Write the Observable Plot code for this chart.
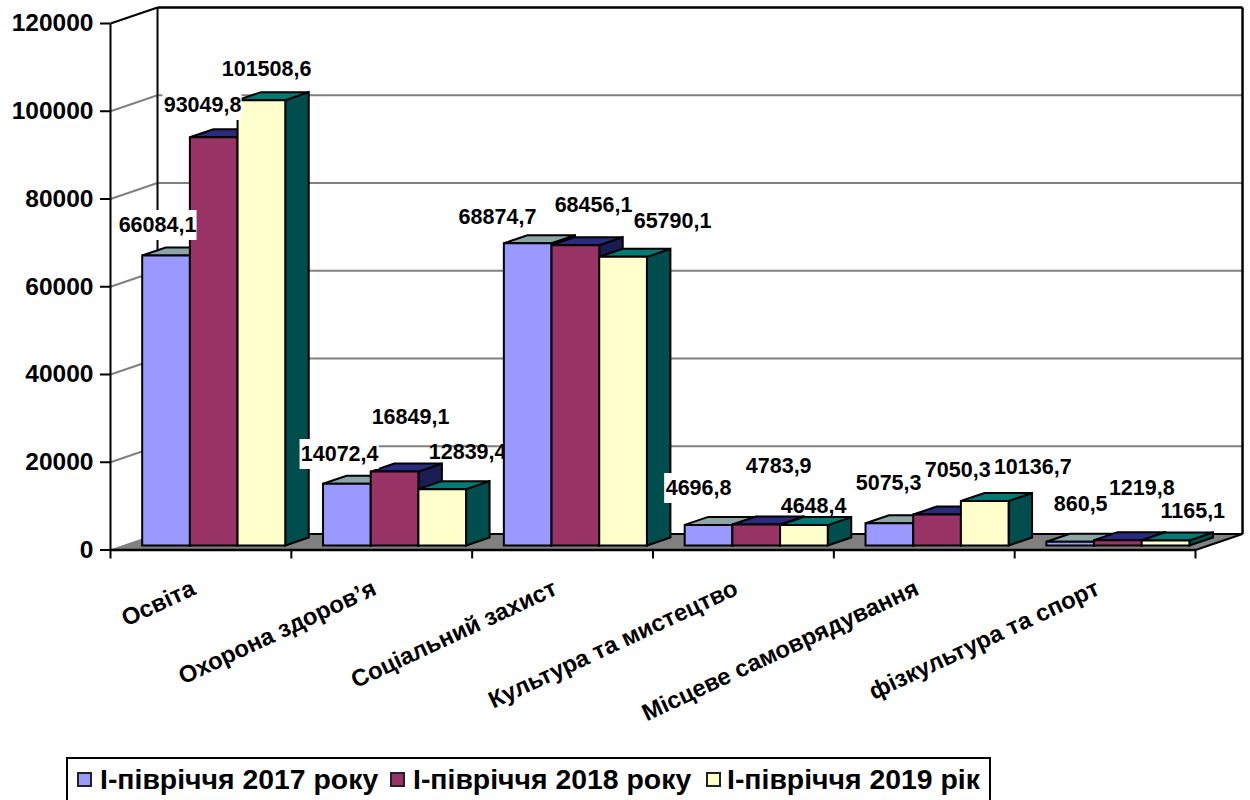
<!DOCTYPE html>
<html><head><meta charset="utf-8">
<script src="https://cdn.jsdelivr.net/npm/d3@7"></script>
<script src="https://cdn.jsdelivr.net/npm/@observablehq/plot@0.6"></script>
<style>
body{margin:0;background:#fff;font-family:"Liberation Sans",Arial,sans-serif;overflow:hidden}
#legend{position:absolute;left:66px;top:757px;width:925px;height:46px;box-sizing:border-box;border:2px solid #000;font-weight:bold;font-size:28.4px;color:#000}
#legend span{position:absolute;top:4px;white-space:nowrap}
#legend i{position:absolute;top:13px;width:15px;height:15px;box-sizing:border-box;border:2px solid #222}
</style></head><body><div id="chart"></div><div id="legend"></div>
<script>
const categories = ["Освіта","Охорона здоров’я","Соціальний захист","Культура та мистецтво","Місцеве самоврядування","фізкультура та спорт"];
const seriesNames = ["І-півріччя 2017 року","І-півріччя 2018 року","І-півріччя 2019 рік"];
const values2017 = [66084.1,14072.4,68874.7,4696.8,5075.3,860.5];
const values2018 = [93049.8,16849.1,68456.1,4783.9,7050.3,1219.8];
const values2019 = [101508.6,12839.4,65790.1,4648.4,10136.7,1165.1];
const yTicks = [0,20000,40000,60000,80000,100000,120000];

// colours: front, top and side face of each series
const frontColors = ["#9999FF","#993366","#FFFFCC"];
const topColors = ["#8CA5A5","#2A2A7E","#007A73"];
const sideColors = ["#5C7878","#1C1C55","#004D4D"];

// hand-placed data labels, in chart units: [category position, value height]
const labelX = [[0.26,1.267,2.14,3.252,4.303,5.365],[0.509,1.659,2.671,3.695,4.685,5.703],[0.863,1.975,3.108,3.888,5.1,5.985]];
const labelY = [[73960,21766,75783,14017,15157,10370],[101310,30199,78519,19031,18120,14017],[109516,22222,74872,9914,18803,8775]];

const boxedLabels = new Set(["66084,1","93049,8","14072,4","4696,8"]);
const behindBars = new Set(["12839,4"]);

const allValues = [values2017,values2018,values2019];
const fmt = v => String(v).replace(".",",");
const rows = [];
categories.forEach((c,i)=>allValues.forEach((vals,s)=>rows.push({
  c,i,s,v:vals[i],text:fmt(vals[i]),lx:labelX[s][i],ly:labelY[s][i]
})));

const offset = 0.178, barW = 0.2637;     // bar placement inside a category
const wallX = 0.26, wallY = 3650;        // depth of the box in chart units
const barDx = 23.5, barDy = -8, barLift = -4;  // depth of a bar, in px

function bars3d(index, scales, values){
  const g = d3.create("svg:g");
  const {x1:X1,x2:X2,y1:Y1,y2:Y2} = values;
  for(const k of index){
    const s = rows[k].s;
    const l=X1[k]+0, r=X2[k]+0, b=Y1[k]+barLift, t=Y2[k]+barLift;
    const pts = a => a.map(p=>p.join(",")).join(" ");
    const add = (p,f)=>g.append("polygon").attr("points",pts(p)).attr("fill",f)
       .attr("stroke","#000").attr("stroke-width",2).attr("stroke-linejoin","miter");
    add([[r,b],[r+barDx,b+barDy],[r+barDx,t+barDy],[r,t]],sideColors[s]);
    add([[l,t],[l+barDx,t+barDy],[r+barDx,t+barDy],[r,t]],topColors[s]);
    add([[l,b],[r,b],[r,t],[l,t]],frontColors[s]);
  }
  return g.node();
}

const fontFamily = '"Liberation Sans",Arial,sans-serif';
const plot = Plot.plot({
  width:1250,height:757,
  marginLeft:110,marginRight:55,marginTop:23,marginBottom:207.5,
  style:{fontFamily,background:"#fff"},
  x:{type:"linear",domain:[0,6]},
  y:{domain:[0,120000]},
  marks:[
    // floor
    Plot.area([0,6],{x1:d=>d,y1:0,x2:d=>d+wallX,y2:wallY,fill:"#808080"}),
    // wall gridlines with their receding side segments
    Plot.link(yTicks.filter(t=>t>0&&t<120000),{x1:0,y1:d=>d,x2:wallX,y2:d=>d+wallY,stroke:"#808080",strokeWidth:2}),
    Plot.link(yTicks.filter(t=>t>0&&t<120000),{x1:wallX,y1:d=>d+wallY,x2:6+wallX,y2:d=>d+wallY,stroke:"#808080",strokeWidth:2}),
    // box edges
    Plot.link([120000],{x1:0,y1:d=>d,x2:wallX,y2:d=>d+wallY,stroke:"#000",strokeWidth:2}),
    Plot.link([120000],{x1:wallX,y1:d=>d+wallY,x2:6+wallX,y2:d=>d+wallY,stroke:"#000",strokeWidth:2.5}),
    Plot.link([0],{x1:wallX,y1:wallY,x2:wallX,y2:120000+wallY,stroke:"#000",strokeWidth:2}),
    Plot.link([0],{x1:6+wallX,y1:wallY,x2:6+wallX,y2:120000+wallY,stroke:"#000",strokeWidth:2.5}),
    Plot.link([0],{x1:wallX,y1:wallY,x2:6+wallX,y2:wallY,stroke:"#000",strokeWidth:2}),
    Plot.link([0],{x1:6,y1:0,x2:6+wallX,y2:wallY,stroke:"#000",strokeWidth:2}),
    Plot.link([0],{x1:0,y1:0,x2:0,y2:120000,stroke:"#000",strokeWidth:2}),
    Plot.link([0],{x1:0,y1:0,x2:6,y2:0,stroke:"#000",strokeWidth:2.5}),
    // axes
    Plot.axisY({ticks:yTicks,tickSize:10,tickPadding:7,tickFormat:d=>String(d),fontSize:24.5,fontWeight:"bold",label:null,strokeWidth:2,stroke:"#000",fill:"#000"}),
    Plot.axisX({ticks:d3.range(7),tickSize:9,tickFormat:()=>"",label:null,strokeWidth:2,stroke:"#000"}),
    Plot.text(categories,{x:(d,i)=>i+0.46,y:0,text:d=>d,rotate:-25,textAnchor:"end",lineAnchor:"middle",dy:37,fontSize:23.8,fontWeight:"bold",fill:"#000"}),
    // label that the neighbouring bar overlaps
    Plot.text(rows.filter(d=>behindBars.has(d.text)),{x:"lx",y:"ly",text:"text",fontSize:21.5,fontWeight:"bold",fill:"#000",lineAnchor:"middle"}),
    // bars
    Plot.rect(rows,{x1:d=>d.i+offset+d.s*barW,x2:d=>d.i+offset+(d.s+1)*barW,y1:0,y2:"v",render:bars3d}),
    // white boxes behind some labels, then labels
    Plot.rect(rows.filter(d=>boxedLabels.has(d.text)),{
      x1:d=>d.lx-d.text.length*5.65/180.83,x2:d=>d.lx+d.text.length*5.65/180.83,
      y1:d=>d.ly-15/0.0043875,y2:d=>d.ly+15/0.0043875,fill:"#fff"}),
    Plot.text(rows.filter(d=>!behindBars.has(d.text)),{x:"lx",y:"ly",text:"text",fontSize:21.5,fontWeight:"bold",fill:"#000",lineAnchor:"middle"})
  ]
});
document.getElementById("chart").appendChild(plot);

const lg = document.getElementById("legend");
const swatchAt=[9,322,638], textAt=[32,345,659];
seriesNames.forEach((n,i)=>{
  const sw=document.createElement("i");sw.style.left=swatchAt[i]+"px";sw.style.background=frontColors[i];lg.appendChild(sw);
  const t=document.createElement("span");t.style.left=textAt[i]+"px";t.textContent=n;lg.appendChild(t);
});
</script></body></html>
